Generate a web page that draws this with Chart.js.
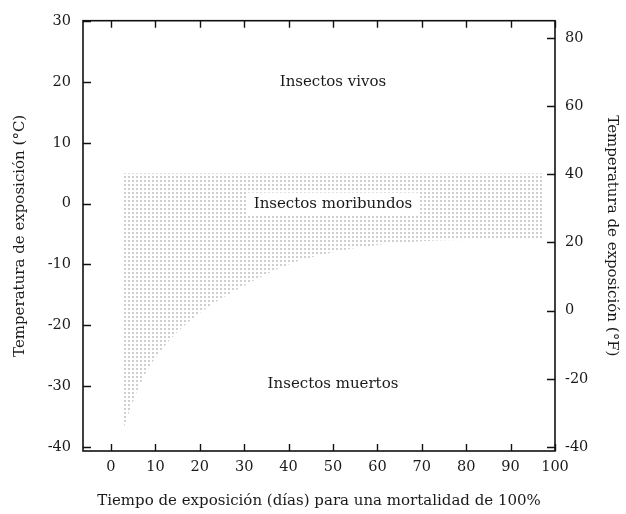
<!DOCTYPE html>
<html>
<head>
<meta charset="utf-8">
<script src="https://cdn.jsdelivr.net/npm/chart.js@4"></script>
<style>
  html, body { margin: 0; padding: 0; background: #ffffff; }
  #wrap { width: 626px; height: 514px; }
</style>
</head>
<body>
<div id="wrap"><canvas id="c" width="626" height="514"></canvas></div>
<script>
// ---- data ----
const xTicks = [0, 10, 20, 30, 40, 50, 60, 70, 80, 90, 100];
const yTicksC = [-40, -30, -20, -10, 0, 10, 20, 30];
const yTicksF = [-40, -20, 0, 20, 40, 60, 80];

// lower boundary of the "moribundos" band (days, °C)
const boundaryDays = [2.6, 4, 7, 12, 20, 30, 40, 50, 60, 70, 80, 90, 97.3];
const boundaryTemp = [-37.5, -34.5, -29, -23.5, -18, -13.5, -10, -8, -6.8, -6.2, -6, -6, -6];
// upper limit of the band (°C)
const bandTop = 5;

const regionLabels = ['Insectos vivos', 'Insectos moribundos', 'Insectos muertos'];
const regionLabelDays = [50, 50, 50];
const regionLabelTemp = [20, 0, -29.7];
const regionLabelBoxed = [false, true, false];

const xTitle = 'Tiempo de exposición (días) para una mortalidad de 100%';
const yTitleC = 'Temperatura de exposición (°C)';
const yTitleF = 'Temperatura de exposición (°F)';

// ---- styling ----
const FONT = 'DejaVu Serif';
const TEXT = '#1a1a1a';
const TICK_SIZE = 14.5;

function makeDots() {
  const p = document.createElement('canvas');
  p.width = 4; p.height = 4;
  const g = p.getContext('2d');
  g.fillStyle = '#cfcfcf';
  g.fillRect(0, 0, 2, 2);
  return g.createPattern(p, 'repeat');
}

const ctx = document.getElementById('c').getContext('2d');
const dots = makeDots();

const framePlugin = {
  id: 'frame',
  afterDatasetsDraw(chart) {
    const c = chart.ctx;
    const a = chart.chartArea;
    const x = chart.scales.x, yc = chart.scales.y, yf = chart.scales.yF;
    c.save();
    // region labels
    c.font = '15px "' + FONT + '"';
    c.textAlign = 'center';
    c.textBaseline = 'middle';
    regionLabels.forEach((t, i) => {
      const px = x.getPixelForValue(regionLabelDays[i]);
      const py = yc.getPixelForValue(regionLabelTemp[i]);
      if (regionLabelBoxed[i]) {
        const w = c.measureText(t).width;
        c.fillStyle = '#ffffff';
        c.fillRect(px - w / 2 - 7, py - 11, w + 14, 23);
      }
      c.fillStyle = TEXT;
      c.fillText(t, px, py);
    });
    // inward ticks
    c.strokeStyle = '#111';
    c.lineWidth = 1.4;
    c.beginPath();
    xTicks.forEach(v => {
      const px = Math.round(x.getPixelForValue(v)) + 0.5;
      c.moveTo(px, a.bottom); c.lineTo(px, a.bottom - 7);
      c.moveTo(px, a.top); c.lineTo(px, a.top + 7);
    });
    yTicksC.forEach(v => {
      const py = Math.round(yc.getPixelForValue(v)) + 0.5;
      c.moveTo(a.left, py); c.lineTo(a.left + 8, py);
    });
    yTicksF.forEach(v => {
      const py = Math.round(yf.getPixelForValue(v)) + 0.5;
      c.moveTo(a.right, py); c.lineTo(a.right - 8, py);
    });
    c.stroke();
    // frame
    c.lineWidth = 1.6;
    c.strokeRect(a.left, a.top, a.right - a.left, a.bottom - a.top);
    c.restore();
  }
};

function setTicks(arr) {
  return function (scale) { scale.ticks = arr.map(v => ({ value: v })); };
}

new Chart(ctx, {
  type: 'line',
  data: {
    datasets: [{
      label: 'Insectos moribundos',
      data: boundaryDays.map((d, i) => ({ x: d, y: boundaryTemp[i] })),
      yAxisID: 'y',
      borderWidth: 0,
      borderColor: 'rgba(0,0,0,0)',
      pointRadius: 0,
      cubicInterpolationMode: 'monotone',
      backgroundColor: dots,
      fill: { value: bandTop }
    }]
  },
  options: {
    responsive: false,
    devicePixelRatio: 1,
    animation: false,
    layout: { padding: { top: 15, left: 0, right: 0, bottom: 0 } },
    plugins: { legend: { display: false }, tooltip: { enabled: false } },
    scales: {
      x: {
        type: 'linear',
        position: 'bottom',
        min: -6.3, max: 100,
        afterBuildTicks: setTicks(xTicks),
        afterFit(s) { s.height = 63; },
        grid: { display: false, drawTicks: false },
        border: { display: false },
        ticks: { padding: 8, color: TEXT, font: { family: FONT, size: TICK_SIZE } },
        title: { display: true, text: xTitle, color: TEXT, padding: { top: 4, bottom: 4 }, font: { family: FONT, size: 15 } }
      },
      y: {
        type: 'linear',
        position: 'left',
        min: -40.7, max: 30.1,
        afterBuildTicks: setTicks(yTicksC),
        afterFit(s) { s.width = 83; },
        grid: { display: false, drawTicks: false },
        border: { display: false },
        ticks: { padding: 12, color: TEXT, font: { family: FONT, size: TICK_SIZE } },
        title: { display: true, text: yTitleC, color: TEXT, padding: { top: 11, bottom: 11 }, font: { family: FONT, size: 15 } }
      },
      yF: {
        type: 'linear',
        position: 'right',
        min: -41.2, max: 85.1,
        afterBuildTicks: setTicks(yTicksF),
        afterFit(s) { s.width = 71; },
        grid: { display: false, drawTicks: false },
        border: { display: false },
        ticks: { padding: 10, color: TEXT, font: { family: FONT, size: TICK_SIZE } },
        title: { display: true, text: yTitleF, color: TEXT, padding: { top: 5, bottom: 5 }, font: { family: FONT, size: 15 } }
      }
    }
  },
  plugins: [framePlugin]
});
</script>
</body>
</html>
